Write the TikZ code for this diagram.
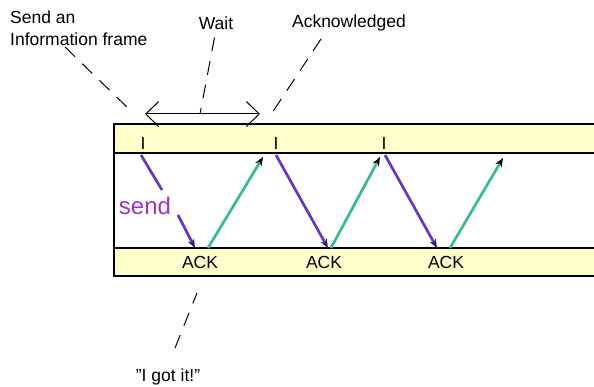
\documentclass[tikz,border=0pt]{standalone}
\usepackage{fontspec}
\setmainfont{Liberation Sans}
\usetikzlibrary{arrows.meta,calc}

\definecolor{bandyellow}{RGB}{255,255,204}
\definecolor{framepurple}{RGB}{102,51,204}
\definecolor{sendviolet}{RGB}{153,51,204}
\definecolor{ackteal}{RGB}{51,187,153}

\tikzset{
  band/.style={fill=bandyellow},
  bandline/.style={line width=1.2pt},
  note text/.style={font=\fontsize{17.5}{22}\selectfont, inner sep=0pt},
  frame arrow/.style={framepurple, line width=2.7pt,
    -{Stealth[length=9pt,width=7pt,color=framepurple!55!black]}},
  ack arrow/.style={ackteal, line width=2.7pt,
    -{Stealth[length=9pt,width=7pt,color=black]}},
  callout/.style={black, line width=1pt, dash pattern=on 14pt off 10pt},
}

\begin{document}
\begin{tikzpicture}[x=1pt,y=-1pt]
      \useasboundingbox (0,0) rectangle (594,387);

      % % Bands
      \fill[band] (114,124) rectangle (594,153);
      \fill[band] (114,248) rectangle (594,276);
      \draw[bandline] (594,124) -- (114,124) -- (114,276) -- (594,276);
      \draw[bandline] (114,153) -- (594,153);
      \draw[bandline] (114,248) -- (594,248);

      % % Frames (top) and acknowledgements (bottom)
      \node[note text] (i1) at (143,143) {I};
      \node[note text] (i2) at (276,143) {I};
      \node[note text] (i3) at (384,143) {I};
      \node[note text] (ack1) at (200,262) {ACK};
      \node[note text] (ack2) at (324,262) {ACK};
      \node[note text] (ack3) at (446,262) {ACK};
      \node[note text, font=\fontsize{24}{26}\selectfont, sendviolet] (send) at (145,206) {send};

      % % Frame and ack arrows
      \coordinate (f1) at (141,155);
      \coordinate (f1a) at (162,190);
      \coordinate (f1b) at (178,215);
      \coordinate (a1) at (195,248);
      \draw[framepurple, line width=2.7pt] (f1) -- (f1a);
      \draw[frame arrow] (f1b) -- (a1);
      \draw[ack arrow] (208,248) -- (263,157);
      \draw[frame arrow] (276,155) -- (328,248);
      \draw[ack arrow] (331,248) -- (380,157);
      \draw[frame arrow] (385,155) -- (437,248);
      \draw[ack arrow] (450,248) -- (503,158);

      % Wait span
      \coordinate (waitL) at (145,114);
      \coordinate (waitR) at (260,114);
      \coordinate (waitM) at (200,114);
      \draw[line width=1pt, {Straight Barb[length=13pt,width=25pt]}-{Straight Barb[length=13pt,width=25pt]}] (waitL) -- (waitR);

      % % Callouts
      \node[note text, align=left, anchor=west] (sendtxt) at (10,28) {Send an\\Information frame};
      \node[note text] (wait) at (216,23) {Wait};
      \node[note text] (acked) at (349,23) {Acknowledged};
      \node[note text] (gotit) at (168,377) {\symbol{34}I got it!\symbol{34}};
      \coordinate (sendfoot) at (65,47);
      \coordinate (sendtip) at (130,110);
      \coordinate (ackedfoot) at (321,39);
      \coordinate (ackedtip) at (270,116);
      \coordinate (gotitfoot) at (175,348);
      \coordinate (gotittip) at (197,293);
      \draw[callout] (sendfoot) -- (sendtip);
      \draw[callout, shorten <=8pt] (wait.south) -- (waitM);
      \draw[callout] (ackedfoot) -- (ackedtip);
      \draw[callout] (gotitfoot) -- (gotittip);
\end{tikzpicture}
\end{document}
